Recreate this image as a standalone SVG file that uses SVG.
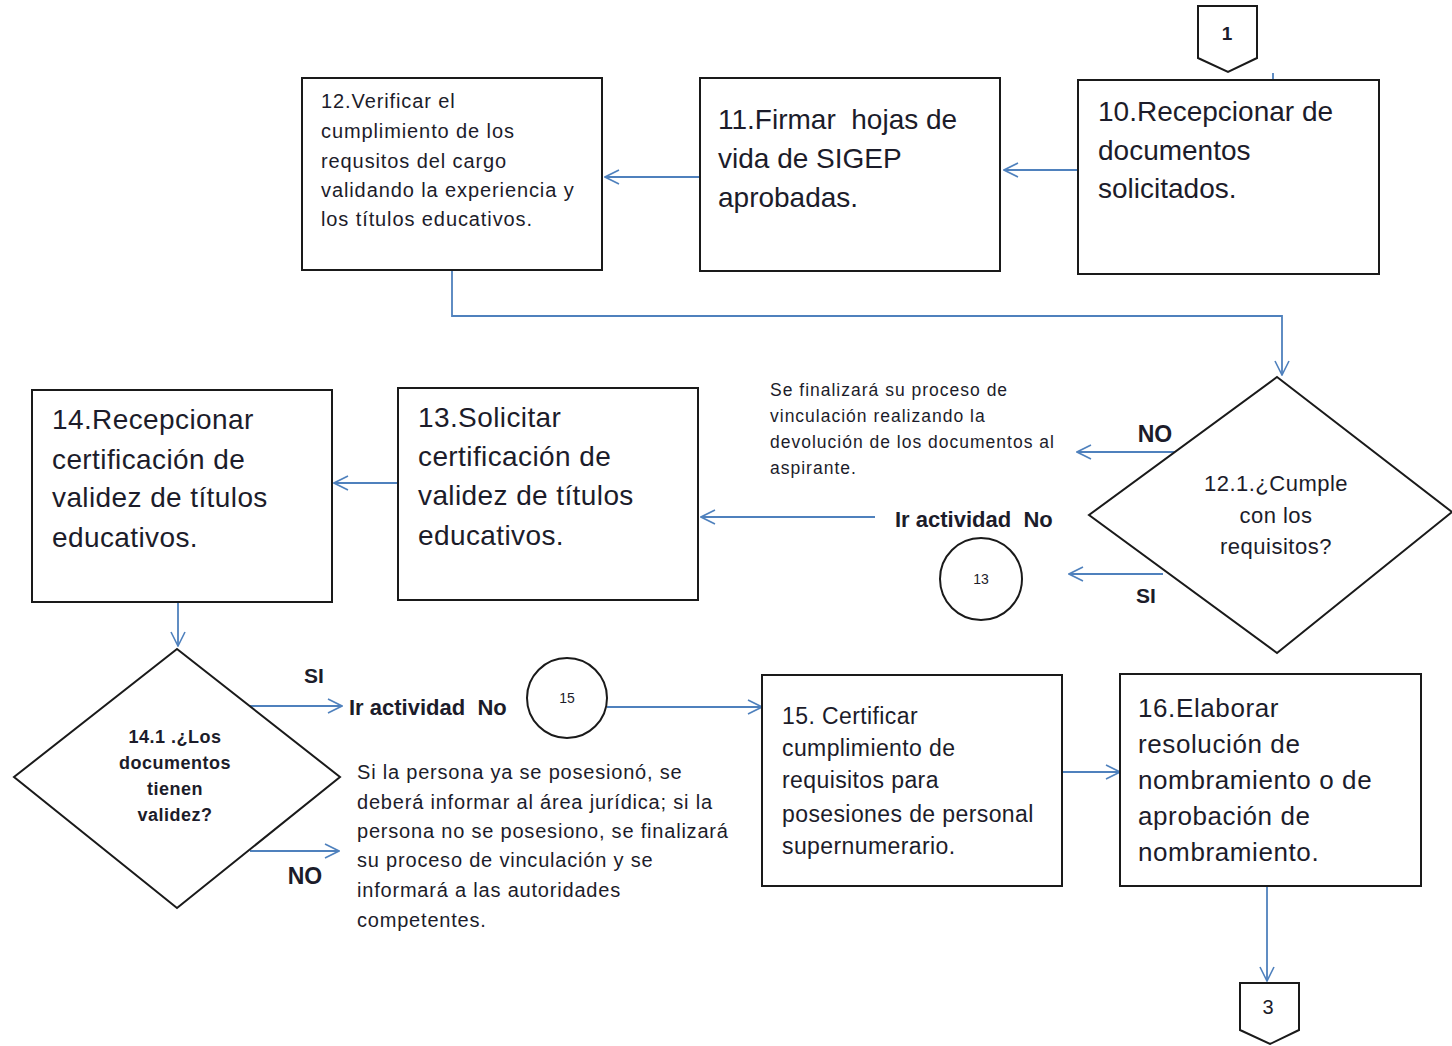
<svg xmlns="http://www.w3.org/2000/svg" width="1452" height="1046" viewBox="0 0 1452 1046">
<style>
.box{fill:#fff;stroke:#1a1a1a;stroke-width:2}
.con{fill:none;stroke:#4f81bd;stroke-width:1.8}
.t{font-family:"Liberation Sans",Arial,sans-serif;fill:#1c1c2a;white-space:pre}
.b{font-weight:bold}
</style>
<defs>
<marker id="ah" viewBox="0 0 16 16" markerWidth="16" markerHeight="16" refX="15" refY="8" orient="auto" markerUnits="userSpaceOnUse">
<path d="M1,1 L15,8 L1,15" fill="none" stroke="#4f81bd" stroke-width="1.6"/>
</marker>
</defs>
<rect width="1452" height="1046" fill="#fff"/>

<g id="connectors">
<path class="con" d="M1273,73 L1273,79" stroke-width="1.2"/>
<path class="con" d="M1078,170 L1004,170" marker-end="url(#ah)"/>
<path class="con" d="M700,177 L605,177" marker-end="url(#ah)"/>
<path class="con" d="M452,270 L452,316 L1282,316 L1282,375" marker-end="url(#ah)"/>
<path class="con" d="M1175,452 L1077,452" marker-end="url(#ah)"/>
<path class="con" d="M1163,574 L1069,574" marker-end="url(#ah)"/>
<path class="con" d="M875,517 L701,517" marker-end="url(#ah)"/>
<path class="con" d="M398,483 L334,483" marker-end="url(#ah)"/>
<path class="con" d="M178,602 L178,646" marker-end="url(#ah)"/>
<path class="con" d="M250,706 L342,706" marker-end="url(#ah)"/>
<path class="con" d="M607,707 L762,707" marker-end="url(#ah)"/>
<path class="con" d="M250,851 L339,851" marker-end="url(#ah)"/>
<path class="con" d="M1062,772 L1120,772" marker-end="url(#ah)"/>
<path class="con" d="M1267,886 L1267,981" marker-end="url(#ah)"/>
</g>

<g id="conn1">
<path class="box" d="M1198,6 L1257,6 L1257,58 L1228,72 L1198,58 Z"/>
<text class="t b" x="1227" y="40" font-size="19" text-anchor="middle">1</text>
</g>

<g id="n10">
<rect class="box" x="1078" y="80" width="301" height="194"/>
<text class="t" font-size="28"><tspan x="1098" y="121">10.Recepcionar de</tspan><tspan x="1098" y="160">documentos</tspan><tspan x="1098" y="198">solicitados.</tspan></text>
</g>

<g id="n11">
<rect class="box" x="700" y="78" width="300" height="193"/>
<text class="t" font-size="28"><tspan x="718" y="129">11.Firmar  hojas de</tspan><tspan x="718" y="168">vida de SIGEP</tspan><tspan x="718" y="207">aprobadas.</tspan></text>
</g>

<g id="n12">
<rect class="box" x="302" y="78" width="300" height="192"/>
<text class="t" font-size="20" letter-spacing="0.9"><tspan x="321" y="108">12.Verificar el</tspan><tspan x="321" y="138">cumplimiento de los</tspan><tspan x="321" y="168">requsitos del cargo</tspan><tspan x="321" y="197">validando la experiencia y</tspan><tspan x="321" y="226">los títulos educativos.</tspan></text>
</g>

<g id="d121">
<path class="box" d="M1277,377 L1452,512 L1277,653 L1089,515 Z"/>
<text class="t" font-size="22" letter-spacing="0.5" text-anchor="middle"><tspan x="1276" y="491">12.1.¿Cumple</tspan><tspan x="1276" y="523">con los</tspan><tspan x="1276" y="554">requisitos?</tspan></text>
</g>

<g id="lbl-no1"><text class="t b" x="1155" y="442" font-size="23" text-anchor="middle">NO</text></g>
<g id="lbl-si1"><text class="t b" x="1146" y="603" font-size="21" text-anchor="middle">SI</text></g>

<g id="note1">
<text class="t" font-size="17.5" letter-spacing="1"><tspan x="770" y="396">Se finalizará su proceso de</tspan><tspan x="770" y="422">vinculación realizando la</tspan><tspan x="770" y="448">devolución de los documentos al</tspan><tspan x="770" y="474">aspirante.</tspan></text>
</g>

<g id="goto13">
<text class="t b" x="895" y="527" font-size="22">Ir actividad  No</text>
</g>

<g id="c13">
<circle cx="981" cy="579" r="41" fill="#fff" stroke="#1a1a1a" stroke-width="2"/>
<text class="t" x="981" y="584" font-size="14" text-anchor="middle">13</text>
</g>

<g id="n13">
<rect class="box" x="398" y="388" width="300" height="212"/>
<text class="t" font-size="28" letter-spacing="0.4"><tspan x="418" y="427">13.Solicitar</tspan><tspan x="418" y="466">certificación de</tspan><tspan x="418" y="505">validez de títulos</tspan><tspan x="418" y="545">educativos.</tspan></text>
</g>

<g id="n14">
<rect class="box" x="32" y="390" width="300" height="212"/>
<text class="t" font-size="28" letter-spacing="0.4"><tspan x="52" y="429">14.Recepcionar</tspan><tspan x="52" y="469">certificación de</tspan><tspan x="52" y="507">validez de títulos</tspan><tspan x="52" y="547">educativos.</tspan></text>
</g>

<g id="d141">
<path class="box" d="M177,649 L340,777 L177,908 L14,777 Z"/>
<text class="t b" font-size="18" letter-spacing="0.5" text-anchor="middle"><tspan x="175" y="743">14.1 .¿Los</tspan><tspan x="175" y="769">documentos</tspan><tspan x="175" y="795">tienen</tspan><tspan x="175" y="821">validez?</tspan></text>
</g>

<g id="lbl-si2"><text class="t b" x="314" y="683" font-size="21" text-anchor="middle">SI</text></g>
<g id="lbl-no2"><text class="t b" x="305" y="884" font-size="23" text-anchor="middle">NO</text></g>

<g id="goto15">
<text class="t b" x="349" y="715" font-size="22">Ir actividad  No</text>
</g>

<g id="c15">
<circle cx="567" cy="698" r="40" fill="#fff" stroke="#1a1a1a" stroke-width="2"/>
<text class="t" x="567" y="703" font-size="14" text-anchor="middle">15</text>
</g>

<g id="note2">
<text class="t" font-size="20" letter-spacing="0.8"><tspan x="357" y="779">Si la persona ya se posesionó, se</tspan><tspan x="357" y="809">deberá informar al área jurídica; si la</tspan><tspan x="357" y="838">persona no se posesiono, se finalizará</tspan><tspan x="357" y="867">su proceso de vinculación y se</tspan><tspan x="357" y="897">informará a las autoridades</tspan><tspan x="357" y="927">competentes.</tspan></text>
</g>

<g id="n15">
<rect class="box" x="762" y="675" width="300" height="211"/>
<text class="t" font-size="23" letter-spacing="0.4"><tspan x="782" y="724">15. Certificar</tspan><tspan x="782" y="756">cumplimiento de</tspan><tspan x="782" y="788">requisitos para</tspan><tspan x="782" y="822">posesiones de personal</tspan><tspan x="782" y="854">supernumerario.</tspan></text>
</g>

<g id="n16">
<rect class="box" x="1120" y="674" width="301" height="212"/>
<text class="t" font-size="26" letter-spacing="0.6"><tspan x="1138" y="717">16.Elaborar</tspan><tspan x="1138" y="753">resolución de</tspan><tspan x="1138" y="789">nombramiento o de</tspan><tspan x="1138" y="825">aprobación de</tspan><tspan x="1138" y="861">nombramiento.</tspan></text>
</g>

<g id="conn3">
<path class="box" d="M1240,983 L1299,983 L1299,1030 L1270,1044 L1240,1030 Z"/>
<text class="t" x="1268" y="1014" font-size="20" text-anchor="middle">3</text>
</g>
</svg>
